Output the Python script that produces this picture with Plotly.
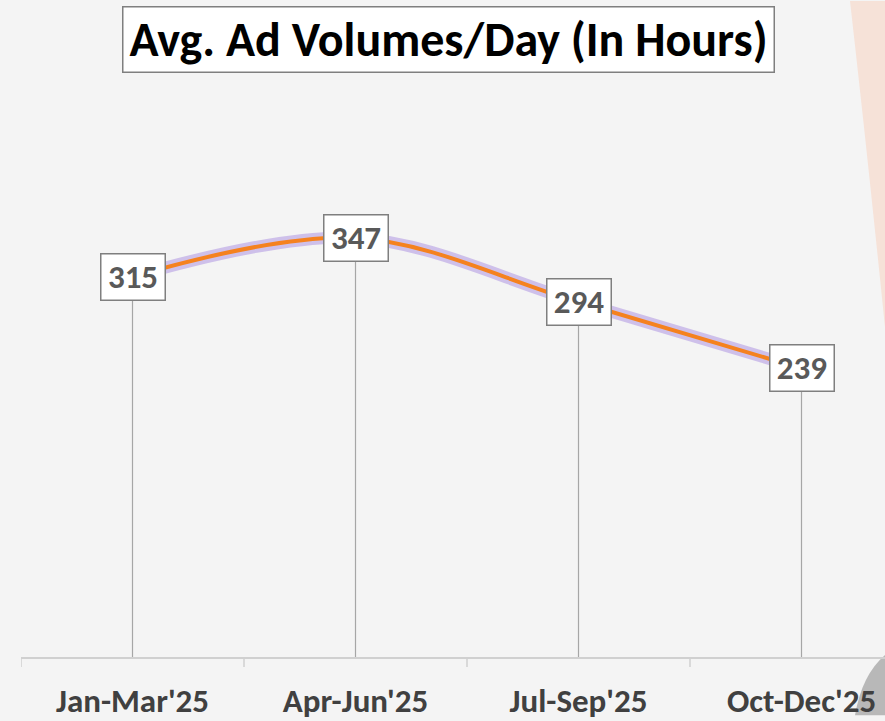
import plotly.graph_objects as go

categories = ["Jan-Mar'25", "Apr-Jun'25", "Jul-Sep'25", "Oct-Dec'25"]
values = [315, 347, 294, 239]
title_text = "Avg. Ad Volumes/Day (In Hours)"

W, H = 885, 721
L, R, T, B = 21, 0, 100, 58
pw = W - L - R
ph = H - T - B
px_per_unit = 1.2205
y_max = ph / px_per_unit
band = 223.0
x_hi = -0.5 + pw / band

def px_to_paper(x, y):
    return (x - L) / pw, (H - B - y) / ph

FONT = "Carlito, Lato, 'Open Sans', sans-serif"

fig = go.Figure()

xs = list(range(len(categories)))

# drop lines
dx, dy = [], []
for i, v in zip(xs, values):
    dx += [i, i, None]
    dy += [0, v, None]
fig.add_trace(go.Scatter(x=dx, y=dy, mode="lines",
                         line=dict(color="#A6A6A6", width=1.2),
                         hoverinfo="skip", showlegend=False))

# glow
fig.add_trace(go.Scatter(x=xs, y=values, mode="lines",
                         line=dict(color="rgba(190,170,230,0.7)", width=12, shape="spline", smoothing=1.0),
                         hoverinfo="skip", showlegend=False))
# main line
fig.add_trace(go.Scatter(x=xs, y=values, mode="lines",
                         line=dict(color="#F5821F", width=4, shape="spline", smoothing=1.0),
                         showlegend=False))

annotations = []
for i, v in zip(xs, values):
    annotations.append(dict(x=i, y=v, xref="x", yref="y", text=str(v), showarrow=False,
                            font=dict(family=FONT, size=33, color="#595959", weight="bold"),
                            bgcolor="white", bordercolor="#7F7F7F", borderwidth=1.5,
                            borderpad=1, width=61, height=43,
                            xanchor="center", yanchor="middle"))

tx, ty = px_to_paper(448.5, 38.5)
annotations.append(dict(x=tx, y=ty, xref="paper", yref="paper", text=title_text, showarrow=False,
                        font=dict(family=FONT, size=48, color="black", weight="bold"),
                        bgcolor="white", bordercolor="#7F7F7F", borderwidth=1.5,
                        borderpad=1, width=648, height=62,
                        xanchor="center", yanchor="middle"))

def pt(x, y):
    a, b = px_to_paper(x, y)
    return f"{a:.4f},{b:.4f}"

shapes = [
    dict(type="path", xref="paper", yref="paper", layer="below",
         path=f"M {pt(850,0)} Q {pt(868,160)} {pt(886,340)} L {pt(886,0)} Z",
         fillcolor="#F6E2D8", line=dict(width=0)),
    dict(type="path", xref="paper", yref="paper", layer="below",
         path=f"M {pt(886,660)} Q {pt(862,680)} {pt(855,722)} L {pt(886,722)} Z",
         fillcolor="#B8B8B8", line=dict(width=0)),
]

fig.update_layout(
    width=W, height=H,
    margin=dict(l=L, r=R, t=T, b=B),
    paper_bgcolor="#F4F4F4", plot_bgcolor="rgba(0,0,0,0)",
    annotations=annotations, shapes=shapes,
    xaxis=dict(range=[-0.5, x_hi], tickmode="array", tickvals=xs, ticktext=categories,
               showgrid=False, zeroline=False, showline=True, linecolor="#D0D0D0", linewidth=1.5,
               ticks="", tickfont=dict(family=FONT, size=33, color="#404040", weight="bold"),
               ticklabelstandoff=14, fixedrange=True),
    yaxis=dict(range=[0, y_max], visible=False, fixedrange=True),
    showlegend=False,
)

# boundary tick marks
for b in [-0.5, 0.5, 1.5, 2.5]:
    fig.add_shape(type="line", xref="x", yref="paper", x0=b, x1=b, y0=0, y1=-10 / ph,
                  line=dict(color="#D0D0D0", width=1.5))

fig.write_html("out.html", config={"displayModeBar": False},
               post_script="document.body.style.margin='0';document.body.style.overflow='hidden';")
